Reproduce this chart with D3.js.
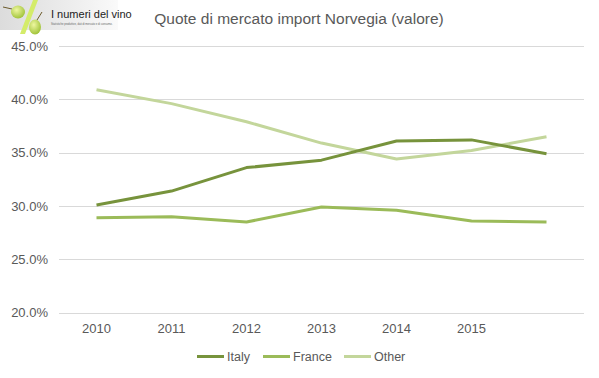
<!DOCTYPE html>
<html><head><meta charset="utf-8">
<script src="https://cdn.jsdelivr.net/npm/d3@7"></script>
<style>body{margin:0;background:#fff}svg{display:block}</style>
</head><body>
<script>
const categories = ["2010","2011","2012","2013","2014","2015","2016"];
const tickLabels = ["2010","2011","2012","2013","2014","2015",""];
const italy  = [30.1, 31.4, 33.6, 34.3, 36.1, 36.2, 34.9];
const france = [28.9, 29.0, 28.5, 29.9, 29.6, 28.6, 28.5];
const other  = [40.9, 39.6, 37.9, 35.9, 34.4, 35.2, 36.5];
const seriesNames = ["Italy","France","Other"];
const colors = ["#77933c","#9bbb59","#c3d69b"];
const yTicks = [20,25,30,35,40,45];

const W=599,H=378;
const svg=d3.select("body").append("svg").attr("width",W).attr("height",H);

// logo
const defs=svg.append("defs");
const g1=defs.append("linearGradient").attr("id","lg").attr("x1",0).attr("x2",1);
g1.append("stop").attr("offset","0").attr("stop-color","#dcdcdc");
g1.append("stop").attr("offset","0.7").attr("stop-color","#f0f0f0");
g1.append("stop").attr("offset","1").attr("stop-color","#fafafa");
const gg=defs.append("radialGradient").attr("id","grape").attr("cx","0.4").attr("cy","0.35").attr("r","0.7");
gg.append("stop").attr("offset","0").attr("stop-color","#eef7a0");
gg.append("stop").attr("offset","1").attr("stop-color","#9cc034");
const logo=svg.append("g");
logo.append("rect").attr("x",0).attr("y",0).attr("width",118).attr("height",30).attr("fill","url(#lg)");
logo.append("path").attr("d","M33,0 L38,0 L25,34 L20,34 Z").attr("fill","#d4ec6a");
logo.append("path").attr("d","M12,9 L3,7").attr("stroke","#6b5a2a").attr("stroke-width",1);
logo.append("ellipse").attr("cx",18).attr("cy",12).attr("rx",7).attr("ry",6.5).attr("fill","url(#grape)");
logo.append("path").attr("d","M37,20 L42,12").attr("stroke","#6b5a2a").attr("stroke-width",1);
logo.append("ellipse").attr("cx",35).attr("cy",27).attr("rx",6).attr("ry",7.5).attr("fill","url(#grape)");
logo.append("text").attr("x",51).attr("y",18).attr("font-family","Liberation Sans Narrow, Arial Narrow, sans-serif").attr("font-size",11).attr("fill","#222").text("I numeri del vino");
logo.append("text").attr("x",51).attr("y",24.5).attr("font-family","Liberation Sans, sans-serif").attr("font-size",2.7).attr("fill","#666").text("Statistiche produttive, dati di mercato e di consumo.");

// title
svg.append("text").attr("x",299).attr("y",24).attr("text-anchor","middle")
  .attr("font-family","Liberation Sans, Arial, sans-serif").attr("font-size",15.5).attr("fill","#595959")
  .text("Quote di mercato import Norvegia (valore)");

const x=d3.scaleBand().domain(categories).range([59,584]);
const y=d3.scaleLinear().domain([20,45]).range([312.7,46]);

// gridlines
svg.append("g").selectAll("line").data(yTicks).join("line")
  .attr("x1",59).attr("x2",584).attr("y1",d=>Math.round(y(d))+0.5).attr("y2",d=>Math.round(y(d))+0.5)
  .attr("stroke","#d9d9d9").attr("stroke-width",1);

// y axis
const ya=svg.append("g").attr("transform","translate(48,0)")
  .call(d3.axisLeft(y).tickValues(yTicks).tickFormat(d=>d.toFixed(1)+"%").tickSize(0).tickPadding(0));
ya.select(".domain").remove();
ya.selectAll("text").attr("font-family","Liberation Sans, Arial, sans-serif").attr("font-size",13).attr("fill","#595959");

// x axis
const xa=svg.append("g").attr("transform","translate(0,321)")
  .call(d3.axisBottom(x).tickFormat((d,i)=>tickLabels[i]).tickSize(0).tickPadding(3));
xa.select(".domain").remove();
xa.selectAll("text").attr("font-family","Liberation Sans, Arial, sans-serif").attr("font-size",13).attr("fill","#595959");

const data=[italy,france,other];
const line=d3.line().x((d,i)=>x(categories[i])+x.bandwidth()/2).y(d=>y(d));
[2,1,0].forEach(k=>{
  svg.append("path").datum(data[k]).attr("d",line).attr("fill","none")
    .attr("stroke",colors[k]).attr("stroke-width",3).attr("stroke-linejoin","round");
});

// legend
const legX=[197,263,344];
const lg=svg.append("g");
seriesNames.forEach((n,i)=>{
  lg.append("line").attr("x1",legX[i]).attr("x2",legX[i]+27).attr("y1",356.5).attr("y2",356.5)
    .attr("stroke",colors[i]).attr("stroke-width",3);
  lg.append("text").attr("x",legX[i]+30).attr("y",361).attr("font-family","Liberation Sans, Arial, sans-serif")
    .attr("font-size",12.5).attr("fill","#595959").text(n);
});
</script>
</body></html>
